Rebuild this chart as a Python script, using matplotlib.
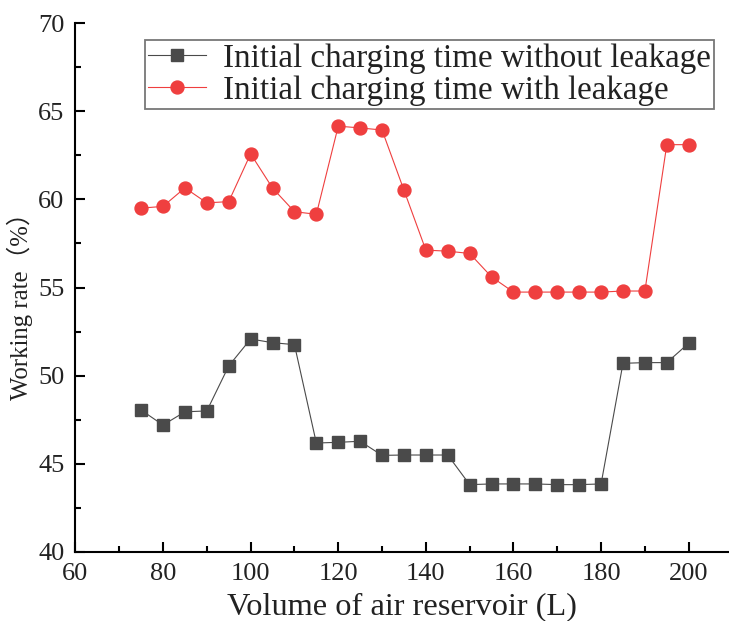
import matplotlib
matplotlib.use("Agg")
import matplotlib.pyplot as plt
from matplotlib.ticker import MultipleLocator

volume = [75, 80, 85, 90, 95, 100, 105, 110, 115, 120, 125, 130, 135, 140, 145,
          150, 155, 160, 165, 170, 175, 180, 185, 190, 195, 200]
without_leak = [48.05, 47.2, 47.95, 48.0, 50.55, 52.08, 51.87, 51.76, 46.18, 46.22, 46.28,
                45.48, 45.5, 45.5, 45.5, 43.82, 43.86, 43.86, 43.86, 43.82, 43.82, 43.86,
                50.7, 50.74, 50.74, 51.84]
with_leak = [59.5, 59.6, 60.65, 59.8, 59.87, 62.58, 60.64, 59.3, 59.15, 64.15, 64.05,
             63.93, 60.52, 57.12, 57.06, 56.93, 55.6, 54.74, 54.74, 54.74, 54.74, 54.74,
             54.8, 54.8, 63.1, 63.1]
label_without = "Initial charging time without leakage"
label_with = "Initial charging time with leakage"
xlabel = "Volume of air reservoir (L)"
ylabel = "Working rate（%）"

serif = ['Liberation Serif', 'Noto Sans CJK SC', 'DejaVu Serif']

fig = plt.figure(figsize=(7.29, 6.21), dpi=100)
ax = fig.add_axes([75.4/729, 69/621, (729-75.4)/729, (552-23)/621])

ax.plot(volume, without_leak, color='#4a4a4a', lw=0.8, marker='s', ms=8.6,
        mec='#4a4a4a', mfc='#4a4a4a', label=label_without)
ax.plot(volume, with_leak, color='#ef3f3f', lw=0.8, marker='o', ms=9.3,
        mec='#ef3f3f', mfc='#ef3f3f', label=label_with)

ax.set_xlim(60, 209.2)
ax.set_ylim(40, 70)
ax.xaxis.set_major_locator(MultipleLocator(20))
ax.xaxis.set_minor_locator(MultipleLocator(10))
ax.yaxis.set_major_locator(MultipleLocator(5))
ax.yaxis.set_minor_locator(MultipleLocator(2.5))
for s in ['top', 'right']:
    ax.spines[s].set_visible(False)
for s in ['left', 'bottom']:
    ax.spines[s].set_linewidth(1.5)
ax.tick_params(which='major', direction='in', length=7, width=1.5, pad=8)
ax.tick_params(which='minor', direction='in', length=4, width=1.5)
for lab in ax.get_xticklabels() + ax.get_yticklabels():
    lab.set_family(serif)
    lab.set_fontsize(19)
    lab.set_color('#222222')

# size text so its rendered width approaches the reference
renderer = fig.canvas.get_renderer()
def fit_size(text, target_px, base=20):
    t = fig.text(0, 0, text, family=serif, fontsize=base)
    w = t.get_window_extent(renderer).width
    t.remove()
    return base * target_px / w

xl_size = fit_size(xlabel, 350)
yl_size = fit_size(ylabel, 200)
leg_size = fit_size(label_without, 490)

ax.set_xlabel(xlabel, family=serif, fontsize=xl_size, color='#222222')
ax.set_ylabel(ylabel, family=serif, fontsize=yl_size, color='#222222')
ax.xaxis.set_label_coords((402 - 75.4) / 653.6, (552 - 607) / 529)
ax.yaxis.set_label_coords((20 - 75.4) / 653.6, (552 - 300) / 529)
ax.xaxis.label.set_va('center')
ax.yaxis.label.set_va('center')

leg = fig.legend(loc='upper left', bbox_to_anchor=(145/729, 1 - 40/621),
                 prop={'family': serif, 'size': leg_size}, frameon=True, fancybox=False,
                 borderaxespad=0, borderpad=0.1, labelspacing=0.05,
                 handlelength=1.75, handletextpad=0.5)
leg.get_frame().set_edgecolor('#555555')
leg.get_frame().set_linewidth(1.3)
for t in leg.get_texts():
    t.set_color('#222222')

fig.savefig('out.png', dpi=100)
